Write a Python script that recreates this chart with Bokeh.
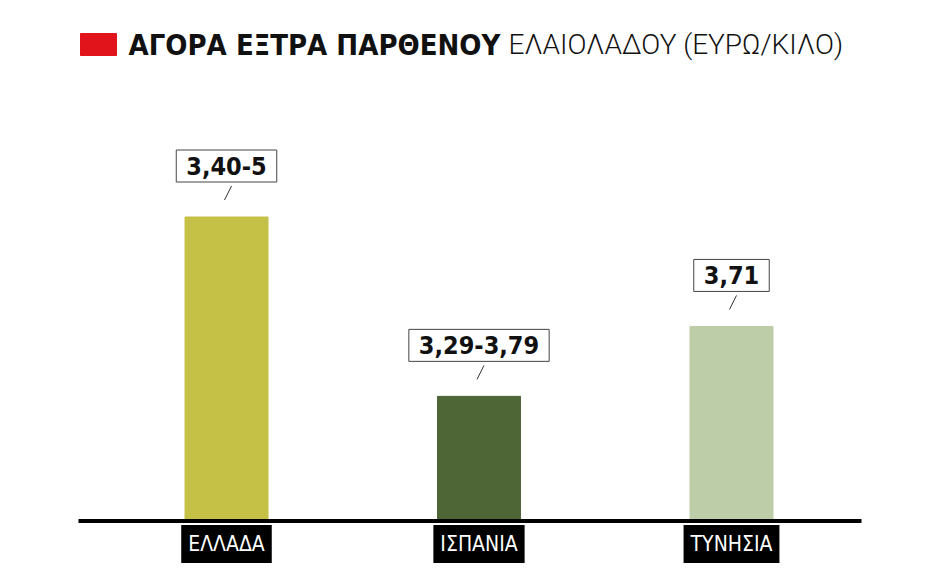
from bokeh.plotting import figure
from bokeh.models import Range1d, Label, ColumnDataSource
from bokeh.embed import file_html
from bokeh.resources import INLINE

# ---- data ----
countries = ["ΕΛΛΑΔΑ", "ΙΣΠΑΝΙΑ", "ΤΥΝΗΣΙΑ"]
price_labels = ["3,40-5", "3,29-3,79", "3,71"]
bar_heights = [100, 41, 64]          # relative bar heights as drawn in the graphic
bar_colors = ["#c4c146", "#4e6535", "#bdcda8"]
title_bold = "ΑΓΟΡΑ ΕΞΤΡΑ ΠΑΡΘΕΝΟΥ"
title_light = "ΕΛΑΙΟΛΑΔΟΥ (ΕΥΡΩ/ΚΙΛΟ)"

# ---- layout constants ----
W, H = 940, 576
X0, DX = 226, 252.5     # px of first bar centre, px per category step
Y0, DY = 520.5, 3.04    # px of baseline, px per height unit


def X(px):
    return (px - X0) / DX


def Y(py):
    return (Y0 - py) / DY


idx = list(range(len(countries)))

p = figure(width=W, height=H, title=None,
           x_range=Range1d(X(0), X(W)), y_range=Range1d(Y(H), Y(0)),
           x_axis_location=None, y_axis_location=None,
           output_backend="svg", toolbar_location=None, min_border=0)
p.grid.visible = False
p.outline_line_color = None
p.background_fill_color = "white"
p.border_fill_color = "white"

src = ColumnDataSource(dict(x=idx, top=bar_heights, color=bar_colors))
p.vbar(x="x", top="top", bottom=0, width=83 / DX, color="color", source=src)

# baseline
p.segment(x0=X(78), y0=0, x1=X(861), y1=0, line_width=4, line_color="black")

# leader ticks
p.segment(x0=[i + 5 / DX for i in idx], y0=[h + 31 / DY for h in bar_heights],
          x1=[i - 2 / DX for i in idx], y1=[h + 17 / DY for h in bar_heights],
          line_width=1, line_color="#333333")

# value boxes
for i, h, lab in zip(idx, bar_heights, price_labels):
    p.add_layout(Label(x=i, y=h, y_offset=35, text=lab,
                       text_align="center", text_baseline="bottom",
                       text_font="DejaVu Sans Condensed", text_font_style="bold",
                       text_font_size="25px", text_color="#111111",
                       background_fill_color="white", border_line_color="#444444",
                       border_line_width=1, padding=(10, 7)))

# category boxes
for i, c in zip(idx, countries):
    p.add_layout(Label(x=i, y=0, y_offset=-23, text=c,
                       text_align="center", text_baseline="middle",
                       text_font="DejaVu Sans Condensed",
                       text_font_size="21px", text_color="white",
                       background_fill_color="black", padding=(7, 7)))

# title
p.quad(left=X(80), right=X(116), top=Y(33), bottom=Y(55), color="#e2141b")
p.add_layout(Label(x=X(128), y=Y(44), text=title_bold, text_align="left",
                   text_baseline="middle", text_font="DejaVu Sans Condensed",
                   text_font_style="bold", text_font_size="29px", text_color="#111111"))
p.add_layout(Label(x=X(508), y=Y(44), text=title_light, text_align="left",
                   text_baseline="middle", text_font="Roboto Light, Roboto",
                   text_font_size="28px", text_color="#111111"))

open("out.html", "w").write(file_html(p, INLINE))
